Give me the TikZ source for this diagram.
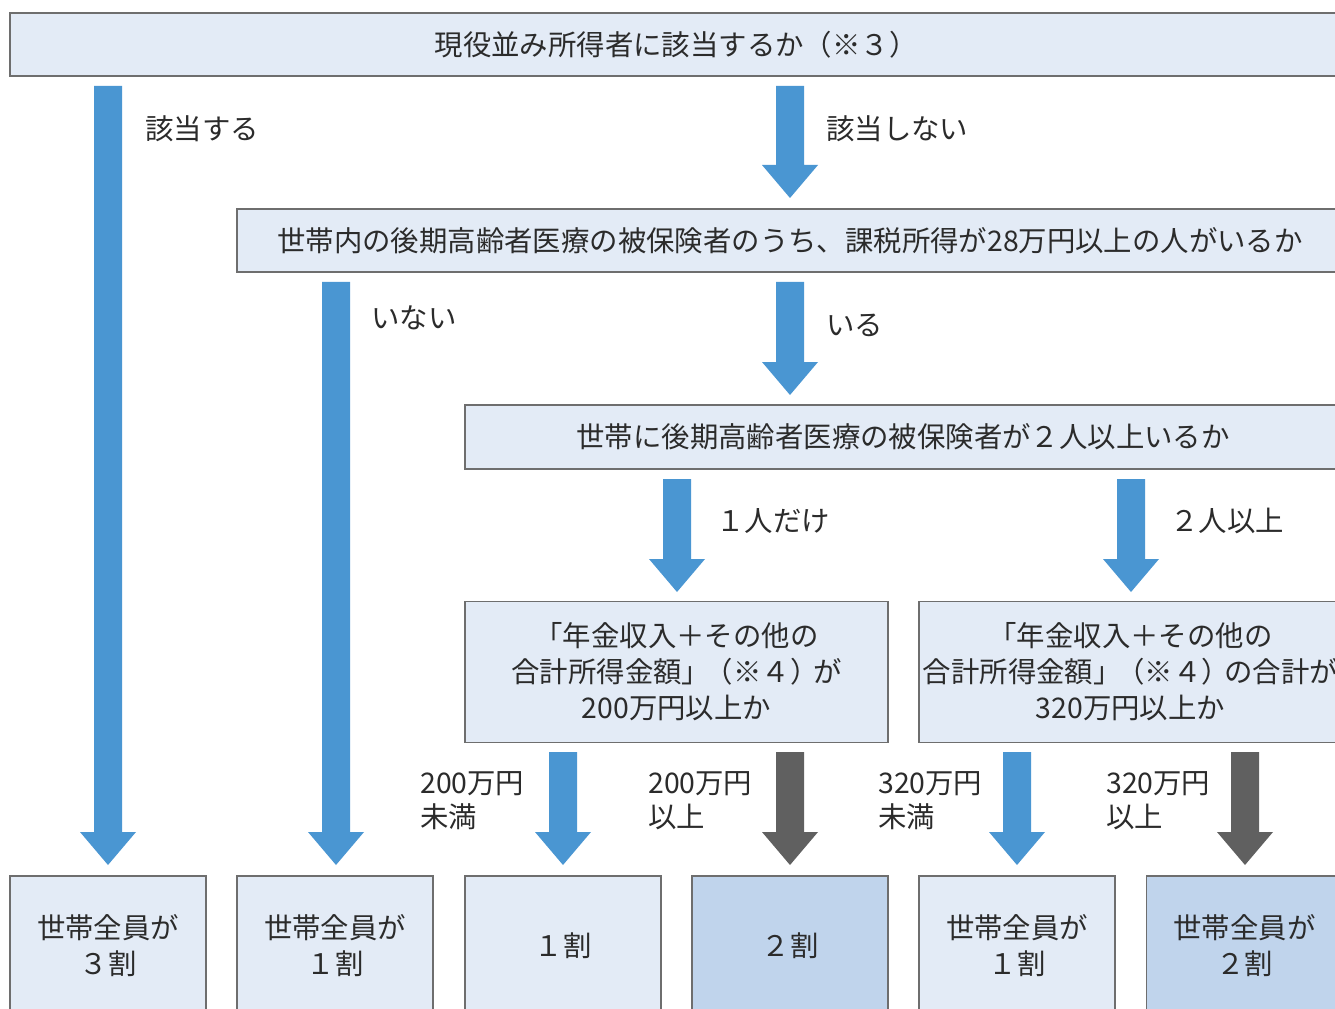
\documentclass[tikz,border=0pt]{standalone}
\usepackage{fontspec}
\setmainfont{Noto Sans CJK JP}
\definecolor{boxfill}{HTML}{E3EBF6}
\definecolor{boxhi}{HTML}{C0D4EC}
\definecolor{boxline}{HTML}{6E6E6E}
\definecolor{arrblue}{HTML}{4A96D2}
\definecolor{arrgray}{HTML}{606060}
\definecolor{txt}{HTML}{2B2B2B}
\newcommand\blkarrow[5]{%
  \fill[#5] (#1-14,#2) -- (#1+14,#2) -- (#1+14,#3) -- (#1+28,#3) -- (#1,#4) -- (#1-28,#3) -- (#1-14,#3) -- cycle;}
\begin{document}
\begin{tikzpicture}[x=0.75pt,y=-0.75pt,
  box/.style={draw=boxline,line width=0.8pt,fill=boxfill,text=txt,inner sep=0pt,align=center,
    font=\fontsize{21.3}{27}\selectfont},
  hibox/.style={box,fill=boxhi},
  lbl/.style={text=txt,inner sep=0pt,anchor=west,align=left,font=\fontsize{21.3}{25.5}\selectfont}]
\useasboundingbox (0,0) rectangle (1335,1009);
\fill[white] (0,0) rectangle (1335,1009);
\begin{scope}
\clip (0,0) rectangle (1335,1009);
% question boxes
\node[box,minimum width=999pt,minimum height=47.25pt] (q1) at (676,44.5) {現役並み所得者に該当するか（※３）};
\node[box,minimum width=829.5pt,minimum height=47.25pt] (q2) at (790,240.5) {世帯内の後期高齢者医療の被保険者のうち、課税所得が28万円以上の人がいるか};
\node[box,minimum width=657pt,minimum height=48pt] (q3) at (903,437) {世帯に後期高齢者医療の被保険者が２人以上いるか};
\node[box,minimum width=317.25pt,minimum height=105.75pt] (q4) at (676.5,672) {「年金収入＋その他の\\合計所得金額」\kern-4pt（※４）\kern-4pt が\\200万円以上か};
\node[box,minimum width=317.25pt,minimum height=105.75pt] (q5) at (1130.5,672) {「年金収入＋その他の\\合計所得金額」\kern-4pt（※４）\kern-4pt の合計が\\320万円以上か};
% result boxes
\node[box,minimum width=147pt,minimum height=105pt] (r1) at (108,946) {世帯全員が\\３割};
\node[box,minimum width=147pt,minimum height=105pt] (r2) at (335,946) {世帯全員が\\１割};
\node[box,minimum width=147pt,minimum height=105pt] (r3) at (563,946) {１割};
\node[hibox,minimum width=147pt,minimum height=105pt] (r4) at (790,946) {２割};
\node[box,minimum width=147pt,minimum height=105pt] (r5) at (1017,946) {世帯全員が\\１割};
\node[hibox,minimum width=147pt,minimum height=105pt] (r6) at (1244.5,946) {世帯全員が\\２割};
% block arrows
\blkarrow{108}{86}{832}{865}{arrblue}
\blkarrow{790}{86}{165}{198}{arrblue}
\blkarrow{336}{282}{832}{865}{arrblue}
\blkarrow{790}{282}{362}{395}{arrblue}
\blkarrow{677}{479}{559}{592}{arrblue}
\blkarrow{1131}{479}{559}{592}{arrblue}
\blkarrow{563}{752}{832}{865}{arrblue}
\blkarrow{790}{752}{832}{865}{arrgray}
\blkarrow{1017}{752}{832}{865}{arrblue}
\blkarrow{1245}{752}{832}{865}{arrgray}
% labels
\node[lbl] (l1) at (145,129) {該当する};
\node[lbl] (l2) at (826,129) {該当しない};
\node[lbl] (l3) at (371,318) {いない};
\node[lbl] (l4) at (826,325) {いる};
\node[lbl] (l5) at (716,521) {１人だけ};
\node[lbl] (l6) at (1170,521) {２人以上};
\node[lbl] (l7) at (420,801) {200万円\\未満};
\node[lbl] (l8) at (648,801) {200万円\\以上};
\node[lbl] (l9) at (878,801) {320万円\\未満};
\node[lbl] (l10) at (1106,801) {320万円\\以上};
\end{scope}
\end{tikzpicture}
\end{document}
